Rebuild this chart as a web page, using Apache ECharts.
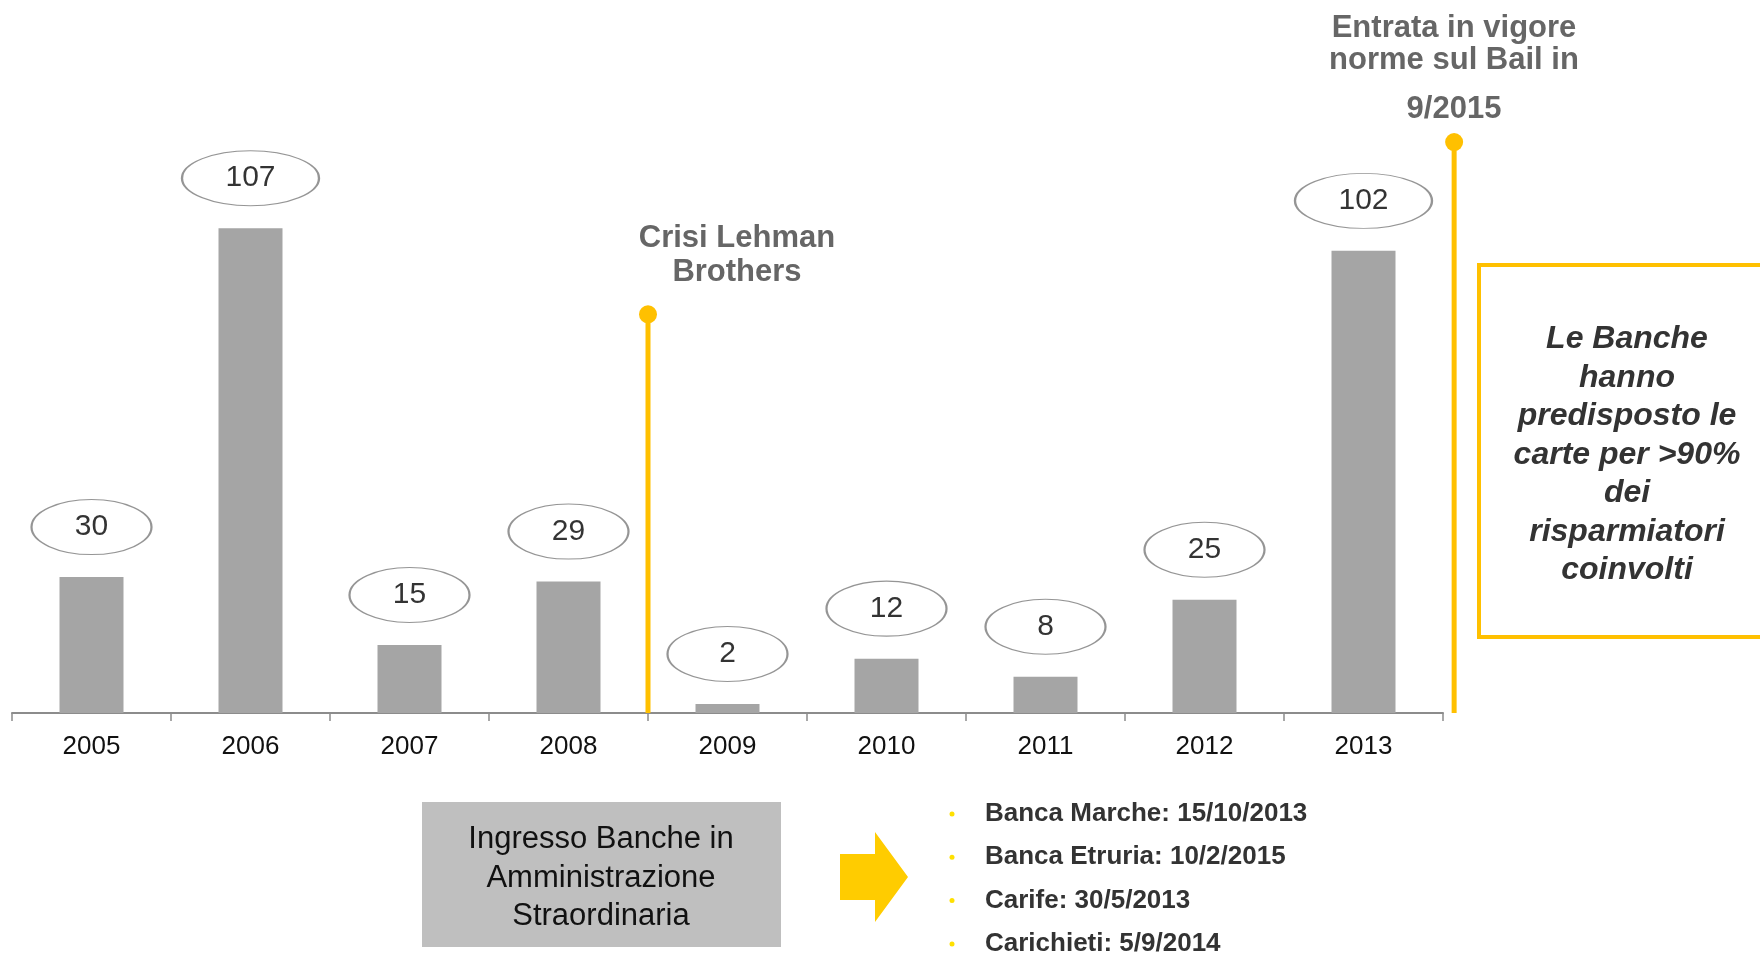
<!DOCTYPE html>
<html>
<head>
<meta charset="utf-8">
<script src="https://cdn.jsdelivr.net/npm/echarts@6/dist/echarts.min.js"></script>
<style>
  html, body { margin: 0; padding: 0; background: #fff; }
  #main { width: 1760px; height: 953px; }
</style>
</head>
<body>
<div id="main"></div>
<script>
const years = ['2005', '2006', '2007', '2008', '2009', '2010', '2011', '2012', '2013']
const banks = [30, 107, 15, 29, 2, 12, 8, 25, 102]

// eventi: posizione sull'asse x (indice anno) e altezza del pallino
const eventNames = ['Crisi Lehman Brothers', 'Bail in 9/2015']
const eventPos = [3.5, 8.57]
const eventTop = [88, 126]

const noteLines = ['Le Banche', 'hanno', 'predisposto le', 'carte per >90%', 'dei', 'risparmiatori', 'coinvolti']
const boxLines = ['Ingresso Banche in', 'Amministrazione', 'Straordinaria']
const bankList = ['Banca Marche: 15/10/2013', 'Banca Etruria: 10/2/2015', 'Carife: 30/5/2013', 'Carichieti: 5/9/2014']

const FONT = '"Liberation Sans", Arial, sans-serif'
const YELLOW = '#FFC000'

var myChart = echarts.init(document.getElementById('main'))

var graphics = [
  {
    type: 'text',
    style: {
      text: 'Crisi Lehman\nBrothers',
      x: 737, y: 255,
      align: 'center', verticalAlign: 'middle',
      font: 'bold 31px ' + FONT, lineHeight: 34, fill: '#666',
    },
  },
  {
    type: 'text',
    style: {
      text: 'Entrata in vigore\nnorme sul Bail in',
      x: 1454, y: 44,
      align: 'center', verticalAlign: 'middle',
      font: 'bold 31px ' + FONT, lineHeight: 32, fill: '#666',
    },
  },
  {
    type: 'text',
    style: {
      text: '9/2015',
      x: 1454, y: 109,
      align: 'center', verticalAlign: 'middle',
      font: 'bold 31px ' + FONT, fill: '#666',
    },
  },
  // riquadro giallo a destra
  {
    type: 'rect',
    shape: { x: 1479, y: 265, width: 320, height: 372 },
    style: { fill: null, stroke: YELLOW, lineWidth: 4 },
  },
  {
    type: 'text',
    style: {
      text: noteLines.join('\n'),
      x: 1627, y: 455,
      align: 'center', verticalAlign: 'middle',
      font: 'italic bold 32px ' + FONT, lineHeight: 38.5, fill: '#333',
    },
  },
  // box grigio
  {
    type: 'rect',
    shape: { x: 422, y: 802, width: 359, height: 145 },
    style: { fill: '#bfbfbf' },
  },
  {
    type: 'text',
    style: {
      text: boxLines.join('\n'),
      x: 601, y: 878,
      align: 'center', verticalAlign: 'middle',
      font: '31px ' + FONT, lineHeight: 38.5, fill: '#111',
    },
  },
  // freccia
  {
    type: 'polygon',
    shape: { points: [[840, 854], [875, 854], [875, 832], [908, 877], [875, 922], [875, 900], [840, 900]] },
    style: { fill: '#FFCC00' },
  },
]

bankList.forEach(function (t, i) {
  var y = 814 + i * 43.3
  graphics.push({
    type: 'circle',
    shape: { cx: 952, cy: y, r: 2.5 },
    style: { fill: '#FFE000' },
  })
  graphics.push({
    type: 'text',
    style: {
      text: t,
      x: 985, y: y,
      align: 'left', verticalAlign: 'middle',
      font: 'bold 26px ' + FONT, fill: '#333',
    },
  })
})

var option = {
  animation: false,
  backgroundColor: '#fff',
  grid: {
    left: 12,
    right: 317,
    top: 124,
    bottom: 240,
    containLabel: false,
    outerBoundsMode: 'none',
  },
  xAxis: [
    {
      type: 'category',
      data: years,
      axisLine: { lineStyle: { color: '#8c8c8c', width: 2 } },
      axisTick: { show: true, length: 8, lineStyle: { color: '#8c8c8c', width: 1.5 } },
      axisLabel: { color: '#111', fontSize: 26, fontFamily: FONT, margin: 21 },
      splitLine: { show: false },
    },
    {
      type: 'value',
      min: -0.5,
      max: 8.5,
      show: false,
    },
  ],
  yAxis: {
    type: 'value',
    min: 0,
    max: 130,
    show: false,
  },
  series: [
    {
      name: 'Banche',
      type: 'bar',
      data: banks,
      barWidth: 64,
      itemStyle: { color: '#a5a5a5' },
      silent: true,
      z: 2,
    },
    {
      // etichette ovali sopra le barre
      name: 'Etichette',
      type: 'scatter',
      data: banks,
      symbol: 'circle',
      symbolSize: function (v) {
        return String(v).length > 2 ? [137, 55] : [120, 55]
      },
      symbolOffset: [0, -50],
      itemStyle: { color: '#fff', borderColor: '#7a7a7a', borderWidth: 1.5 },
      label: {
        show: true,
        position: 'inside',
        color: '#000',
        fontSize: 30,
        fontFamily: FONT,
      },
      silent: true,
      z: 3,
    },
    {
      // linee verticali degli eventi con pallino in cima
      name: 'Eventi',
      type: 'custom',
      xAxisIndex: 1,
      clip: false,
      silent: true,
      z: 4,
      data: eventPos.map(function (x, i) {
        return [x, eventTop[i]]
      }),
      renderItem: function (params, api) {
        var base = api.coord([api.value(0), 0])
        var top = api.coord([api.value(0), api.value(1)])
        return {
          type: 'group',
          children: [
            {
              type: 'line',
              shape: { x1: base[0], y1: base[1], x2: top[0], y2: top[1] },
              style: { stroke: YELLOW, lineWidth: 5 },
            },
            {
              type: 'circle',
              shape: { cx: top[0], cy: top[1], r: 9 },
              style: { fill: YELLOW },
            },
          ],
        }
      },
    },
  ],
  graphic: graphics,
}

option && myChart.setOption(option)
window.addEventListener('resize', function () {
  myChart.resize()
})
</script>
</body>
</html>
